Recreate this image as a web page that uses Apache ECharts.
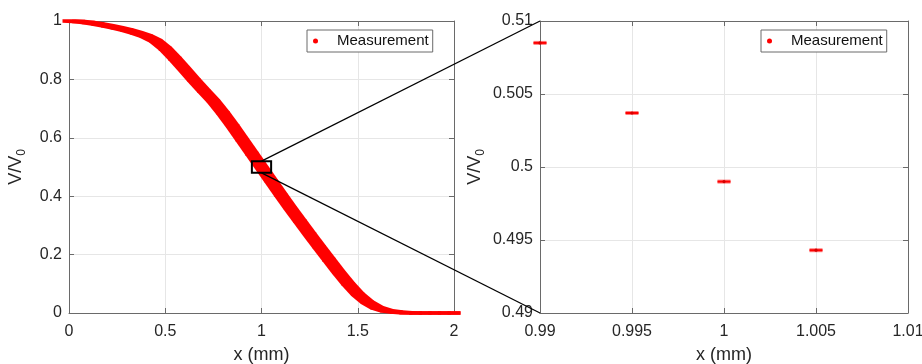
<!DOCTYPE html>
<html><head><meta charset="utf-8">
<script src="https://cdn.jsdelivr.net/npm/echarts@6/dist/echarts.min.js"></script>
<style>html,body{margin:0;padding:0;background:#fff}#c{width:922px;height:364px}</style>
</head><body><div id="c"></div>
<script>
// ---- data ----
const leftX = [0.00,0.05,0.10,0.15,0.20,0.25,0.30,0.35,0.40,0.45,0.50,0.55,0.60,0.65,0.70,0.75,0.80,0.85,0.90,0.95,
               1.00,1.05,1.10,1.15,1.20,1.25,1.30,1.35,1.40,1.45,1.50,1.55,1.60,1.65,1.70,1.75,1.80,1.85,1.90,1.95,2.00];
const leftY = [1.000,0.998,0.995,0.990,0.984,0.977,0.969,0.960,0.949,0.932,0.906,0.872,0.835,0.797,0.761,0.726,0.685,0.640,0.593,0.546,
               0.499,0.452,0.405,0.359,0.314,0.270,0.226,0.183,0.140,0.100,0.064,0.037,0.018,0.008,0.003,0.001,0.000,0.000,0.000,0.000,0.000];
const zoomX = [0.990,0.995,1.000,1.005];
const zoomY = [0.5085,0.5037,0.4990,0.4943];
const leftXAxis = [0, 2, 0.5];      // min, max, interval
const leftYAxis = [0, 1, 0.2];
const rightXAxis = [0.99, 1.01, 0.005];
const rightYAxis = [0.49, 0.51, 0.005];
const boxX = [0.95, 1.05];          // zoom indicator box on left plot
const boxY = [0.48, 0.52];
const seriesName = 'Measurement';
const xName = 'x (mm)';

const FONT = '"Liberation Sans", Arial, Helvetica, sans-serif';
const AXC = '#6a6a6a', TXC = '#262626', GRC = '#e6e6e6';
const fmt = v => String(+(+v).toFixed(4));

function hull(pts){
  pts = pts.slice().sort((a,b)=>a[0]-b[0]||a[1]-b[1]);
  const cross=(o,a,b)=>(a[0]-o[0])*(b[1]-o[1])-(a[1]-o[1])*(b[0]-o[0]);
  const lo=[],up=[];
  for(const p of pts){while(lo.length>=2&&cross(lo[lo.length-2],lo[lo.length-1],p)<=0)lo.pop();lo.push(p);}
  for(let i=pts.length-1;i>=0;i--){const p=pts[i];while(up.length>=2&&cross(up[up.length-2],up[up.length-1],p)<=0)up.pop();up.push(p);}
  up.pop();lo.pop();return lo.concat(up);
}

function bandItem(params, api){
  const i = params.dataIndex;
  const j = Math.min(i+1, leftX.length-1);
  const p1 = api.coord([leftX[i], leftY[i]]);
  const p2 = api.coord([leftX[j], leftY[j]]);
  const w = 6.5, h = 1.75, pts = [];
  [p1,p2].forEach(p=>{pts.push([p[0]-w,p[1]-h],[p[0]+w,p[1]-h],[p[0]+w,p[1]+h],[p[0]-w,p[1]+h]);});
  return {type:'polygon', shape:{points:hull(pts)}, style:{fill:'#ff0000'}};
}
function markItem(params, api){
  const p = api.coord([api.value(0), api.value(1)]);
  return {type:'group', children:[
    {type:'rect', shape:{x:p[0]-6.5,y:p[1]-2,width:13,height:4}, style:{fill:'rgba(255,0,0,0.5)'}},
    {type:'rect', shape:{x:p[0]-6.5,y:p[1]-1,width:13,height:2}, style:{fill:'#ff0000'}},
    {type:'circle', shape:{cx:p[0],cy:p[1],r:1.6}, style:{fill:'#d40000'}}
  ]};
}

function mainX(gi, r){
  return {type:'value', gridIndex:gi, position:'bottom', min:r[0], max:r[1], interval:r[2],
    name:xName, nameLocation:'middle', nameGap:33,
    nameTextStyle:{fontSize:18, color:TXC, fontFamily:FONT},
    axisLine:{show:true, onZero:false, lineStyle:{color:AXC, width:1}},
    axisTick:{show:true, inside:true, length:5, lineStyle:{color:AXC}},
    axisLabel:{fontSize:16, color:TXC, fontFamily:FONT, margin:11, formatter:fmt, showMinLabel:true, showMaxLabel:true},
    splitLine:{show:true, lineStyle:{color:GRC, width:1}}};
}
function mainY(gi, r, gap){
  return {type:'value', gridIndex:gi, position:'left', min:r[0], max:r[1], interval:r[2],
    name:'{a|V/V}{b|0}', nameLocation:'middle', nameGap:gap,
    nameTextStyle:{color:TXC, fontFamily:FONT, rich:{
      a:{fontSize:18, color:TXC, fontFamily:FONT, verticalAlign:'bottom', padding:[0,0,3,0]},
      b:{fontSize:12, color:TXC, fontFamily:FONT, verticalAlign:'bottom'}}},
    axisLine:{show:true, onZero:false, lineStyle:{color:AXC, width:1}},
    axisTick:{show:true, inside:true, length:5, lineStyle:{color:AXC}},
    axisLabel:{fontSize:16, color:TXC, fontFamily:FONT, margin:7, formatter:fmt, showMinLabel:true, showMaxLabel:true},
    splitLine:{show:true, lineStyle:{color:GRC, width:1}}};
}
function sideAxis(kind, gi, r, pos){
  return {type:'value', gridIndex:gi, position:pos, min:r[0], max:r[1], interval:r[2],
    axisLine:{show:true, onZero:false, lineStyle:{color:AXC, width:1}},
    axisTick:{show:true, inside:true, length:5, lineStyle:{color:AXC}},
    axisLabel:{show:false}, splitLine:{show:false}};
}
function legendAt(left){
  return {left:left, top:30, orient:'horizontal', data:[{name:seriesName, icon:'circle'}],
    itemWidth:33, itemHeight:5, itemGap:0, padding:[3,4,3,6],
    borderColor:'#6a6a6a', borderWidth:1, backgroundColor:'#fff',
    selectedMode:false,
    itemStyle:{color:'#ff0000'},
    textStyle:{fontSize:15, color:'#111', fontFamily:FONT, lineHeight:16}};
}

const chart = echarts.init(document.getElementById('c'), null, {renderer:'canvas'});
chart.setOption({
  animation:false,
  backgroundColor:'#fff',
  grid:[{left:69, top:21, width:385, height:292, containLabel:false, outerBoundsMode:'none'},
        {left:540, top:21, width:368, height:292, containLabel:false, outerBoundsMode:'none'}],
  xAxis:[mainX(0, leftXAxis), mainX(1, rightXAxis), sideAxis('x',0,leftXAxis,'top'), sideAxis('x',1,rightXAxis,'top')],
  yAxis:[mainY(0, leftYAxis, 41), mainY(1, rightYAxis, 53), sideAxis('y',0,leftYAxis,'right'), sideAxis('y',1,rightYAxis,'right')],
  legend:[legendAt(307), legendAt(761)],
  series:[
    {name:seriesName, type:'custom', xAxisIndex:0, yAxisIndex:0, clip:false, z:5,
     itemStyle:{color:'#ff0000'}, renderItem:bandItem, encode:{x:0,y:1},
     data:leftX.map((x,i)=>[x,leftY[i]])},
    {name:seriesName, type:'custom', xAxisIndex:1, yAxisIndex:1, clip:false, z:5,
     itemStyle:{color:'#ff0000'}, renderItem:markItem, encode:{x:0,y:1},
     data:zoomX.map((x,i)=>[x,zoomY[i]])}
  ]
});

const L = v => chart.convertToPixel({seriesIndex:0}, v);
const R = v => chart.convertToPixel({seriesIndex:1}, v);
const b1 = L([boxX[0], boxY[1]]), b2 = L([boxX[1], boxY[0]]);
const midX = (boxX[0]+boxX[1])/2;
const t1 = L([midX, boxY[1]]), t2 = R([rightXAxis[0], rightYAxis[1]]);
const u1 = L([midX, boxY[0]]), u2 = R([rightXAxis[0], rightYAxis[0]]);
chart.setOption({graphic:[
  {type:'rect', z:100, shape:{x:b1[0], y:b1[1], width:b2[0]-b1[0], height:b2[1]-b1[1]}, style:{fill:null, stroke:'#000', lineWidth:2}},
  {type:'line', z:100, shape:{x1:t1[0], y1:t1[1], x2:t2[0], y2:t2[1]}, style:{stroke:'#000', lineWidth:1.2}},
  {type:'line', z:100, shape:{x1:u1[0], y1:u1[1], x2:u2[0], y2:u2[1]}, style:{stroke:'#000', lineWidth:1.2}}
]});
</script>
</body></html>
